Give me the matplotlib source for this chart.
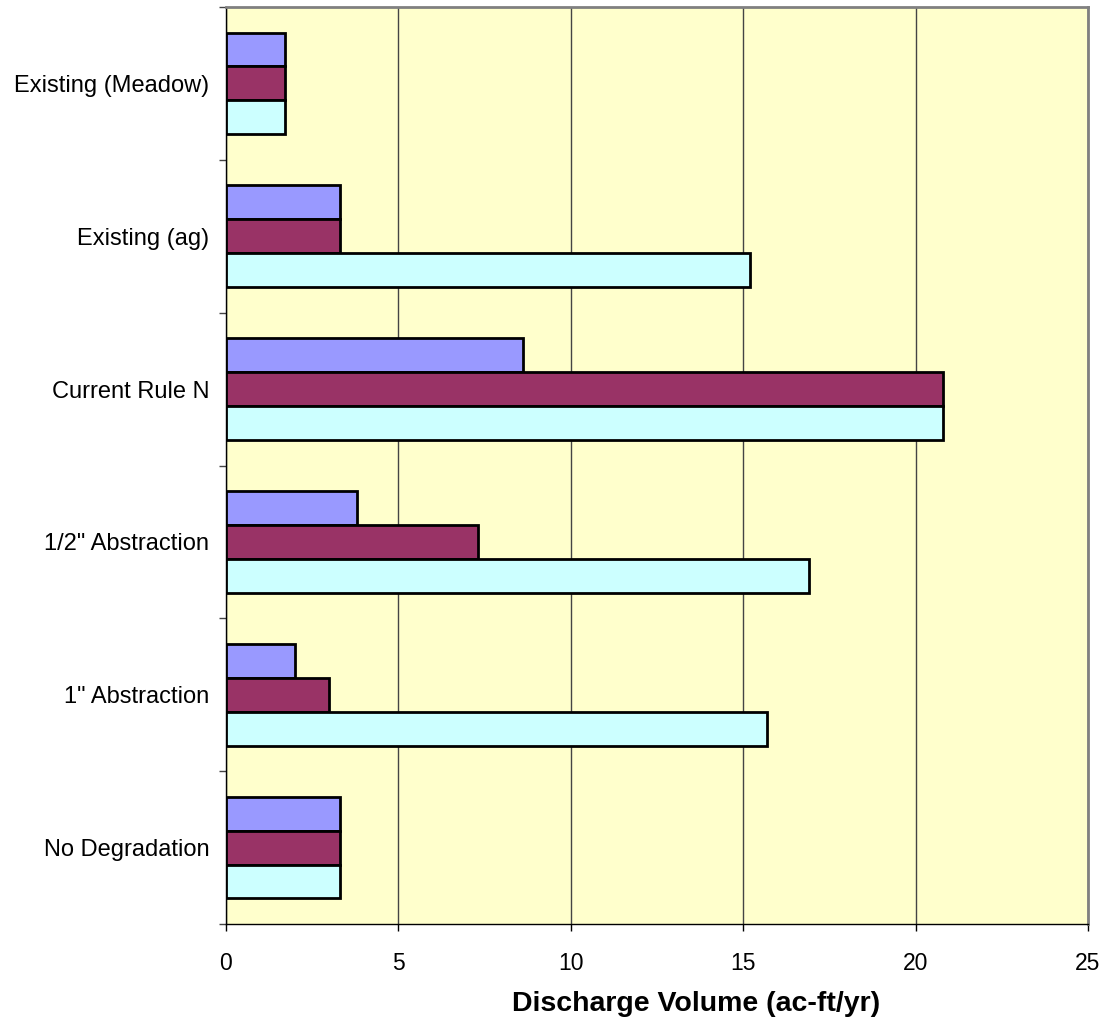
import matplotlib.pyplot as plt
import numpy as np

plt.rcParams["font.family"] = ["Liberation Sans", "DejaVu Sans"]

# Scenario names, top to bottom
categories = ["Existing (Meadow)", "Existing (ag)", "Current Rule N",
              "1/2\" Abstraction", "1\" Abstraction", "No Degradation"]

# Discharge volume (ac-ft/yr) per scenario, one list per series
series_blue = [1.7, 3.3, 8.6, 3.8, 2.0, 3.3]
series_maroon = [1.7, 3.3, 20.8, 7.3, 3.0, 3.3]
series_cyan = [1.7, 15.2, 20.8, 16.9, 15.7, 3.3]

colors = ["#9999FF", "#993366", "#CCFFFF"]
xticks = [0, 5, 10, 15, 20, 25]

fig = plt.figure(figsize=(11.05, 10.25), dpi=100, facecolor="white")
ax = fig.add_axes([226 / 1105, 1 - 924 / 1025, (1088 - 226) / 1105, (924 - 7) / 1025])
ax.set_facecolor("#FFFFCC")

n = len(categories)
y = np.arange(n)
h = 0.222
for offset, vals, c in zip([-h, 0, h], [series_blue, series_maroon, series_cyan], colors):
    ax.barh(y + offset, vals, height=h, color=c, edgecolor="black", linewidth=2, zorder=3)

ax.set_xlim(0, 25)
ax.set_ylim(n - 0.5, -0.5)
ax.set_xticks(xticks)
ax.set_xticklabels([str(t) for t in xticks], fontsize=16.5)
ax.set_yticks(y)
ax.set_yticklabels(categories, fontsize=17)
ax.set_yticks(np.arange(n + 1) - 0.5, minor=True)

ax.tick_params(axis="y", which="major", length=0, pad=12)
ax.tick_params(axis="y", which="minor", length=5, width=1, color="#444444")
ax.tick_params(axis="x", which="major", length=5, width=1, pad=15)

ax.grid(axis="x", color="#444444", linewidth=1, zorder=1)
ax.set_axisbelow(True)

for side in ["top", "right"]:
    ax.spines[side].set_color("#808080")
    ax.spines[side].set_linewidth(2)
for side in ["left", "bottom"]:
    ax.spines[side].set_color("black")
    ax.spines[side].set_linewidth(1)

ax.set_xlabel("Discharge Volume (ac-ft/yr)", fontsize=20.5, fontweight="bold", labelpad=12)
ax.xaxis.label.set_x(0.545)

fig.savefig("out.png", dpi=100, facecolor="white")
